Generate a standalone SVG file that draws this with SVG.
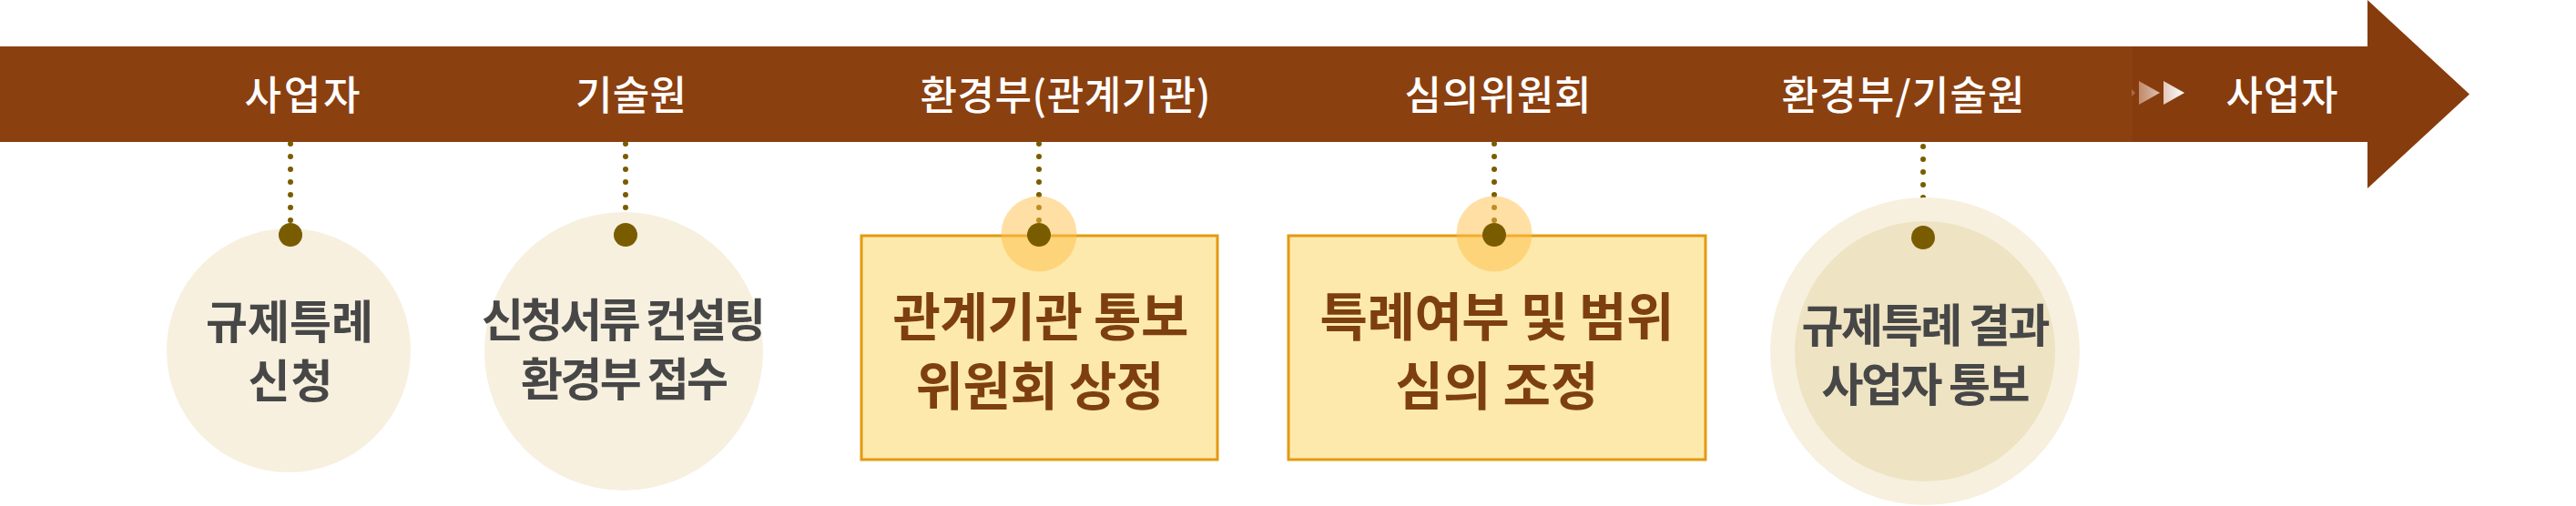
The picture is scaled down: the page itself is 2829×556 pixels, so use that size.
<svg xmlns="http://www.w3.org/2000/svg" width="2829" height="556" viewBox="0 0 2829 556">
  <style>
    .bar-label { font-family: "Noto Sans CJK KR", "Noto Sans", sans-serif; font-size: 44px; font-weight: 500; fill: #ffffff; text-anchor: middle; }
    .c-text { font-family: "Noto Sans CJK KR", "Noto Sans", sans-serif; font-size: 50px; font-weight: 700; fill: #474747; text-anchor: middle; }
    .b-text { font-family: "Noto Sans CJK KR", "Noto Sans", sans-serif; font-size: 57px; font-weight: 700; fill: #7E3F10; text-anchor: middle; }
    .dots { stroke: #7A5C00; stroke-width: 6; stroke-linecap: round; stroke-dasharray: 0 14; fill: none; }
    .pin { fill: #7A5C00; }
    .halo { fill: #FFC04A; fill-opacity: 0.5; }
    .pale { fill: #F7F0DF; }
    .box { fill: #FDE9AC; stroke: #E39A10; stroke-width: 3; }
  </style>
  <defs>
    <linearGradient id="tri" x1="2349" y1="0" x2="2399" y2="0" gradientUnits="userSpaceOnUse">
      <stop offset="0" stop-color="#C08A6A"/>
      <stop offset="1" stop-color="#FFFFFF"/>
    </linearGradient>
  </defs>

  <g id="timeline">
    <rect x="0" y="51" width="2342" height="105" fill="#8B4010"/>
    <polygon points="2342,51 2600,51 2600,0 2712,103.5 2600,207 2600,156 2342,156" fill="#873C0E"/>
    <polygon points="2341,98 2345,102 2341,106" fill="#C08A6A" fill-opacity="0.6"/>
    <polygon points="2349,89 2372,102 2349,115" fill="url(#tri)"/>
    <polygon points="2376,89 2399,102 2376,115" fill="url(#tri)"/>
  </g>

  <g id="connectors">
    <line class="dots" x1="319" y1="158" x2="319" y2="243"/>
    <line class="dots" x1="687" y1="158" x2="687" y2="243"/>
    <line class="dots" x1="1141" y1="158" x2="1141" y2="243"/>
    <line class="dots" x1="1641" y1="158" x2="1641" y2="243"/>
    <line class="dots" x1="2112" y1="161" x2="2112" y2="246"/>
  </g>

  <g id="step1">
    <text class="bar-label" x="332" y="121" textLength="127">사업자</text>
    <circle class="pale" cx="317" cy="385" r="134"/>
    <circle class="pin" cx="319" cy="258" r="13"/>
    <text class="c-text"><tspan x="318" y="372" textLength="184">규제특례</tspan><tspan x="319" y="437" textLength="93">신청</tspan></text>
  </g>

  <g id="step2">
    <text class="bar-label" x="693" y="121" textLength="122">기술원</text>
    <circle class="pale" cx="685" cy="386" r="153"/>
    <circle class="pin" cx="687" cy="258" r="13"/>
    <text class="c-text"><tspan x="685" y="370" textLength="312">신청서류 컨설팅</tspan><tspan x="686" y="435" textLength="228">환경부 접수</tspan></text>
  </g>

  <g id="step3">
    <text class="bar-label" x="1170" y="121" textLength="319">환경부(관계기관)</text>
    <rect class="box" x="946" y="259" width="391" height="246"/>
    <circle class="halo" cx="1141" cy="257" r="41.5"/>
    <circle class="pin" cx="1141" cy="258" r="13"/>
    <text class="b-text"><tspan x="1143" y="369" textLength="325">관계기관 통보</tspan><tspan x="1142" y="445" textLength="273">위원회 상정</tspan></text>
  </g>

  <g id="step4">
    <text class="bar-label" x="1645" y="121" textLength="205">심의위원회</text>
    <rect class="box" x="1415" y="259" width="458" height="246"/>
    <circle class="halo" cx="1641" cy="257" r="41.5"/>
    <circle class="pin" cx="1641" cy="258" r="13"/>
    <text class="b-text"><tspan x="1644" y="369" textLength="389">특례여부 및 범위</tspan><tspan x="1644" y="445" textLength="223">심의 조정</tspan></text>
  </g>

  <g id="step5">
    <text class="bar-label" x="2090" y="121" textLength="267">환경부/기술원</text>
    <ellipse cx="2114" cy="386" rx="170" ry="169" fill="#F7F0DF"/>
    <circle cx="2114" cy="386" r="143" fill="#EEE3C2"/>
    <circle class="pin" cx="2112" cy="261" r="13"/>
    <text class="c-text" font-size="48"><tspan x="2115" y="376" textLength="273">규제특례 결과</tspan><tspan x="2115" y="441" textLength="229">사업자 통보</tspan></text>
  </g>

  <g id="step6">
    <text class="bar-label" x="2506" y="121" textLength="123">사업자</text>
  </g>
</svg>
